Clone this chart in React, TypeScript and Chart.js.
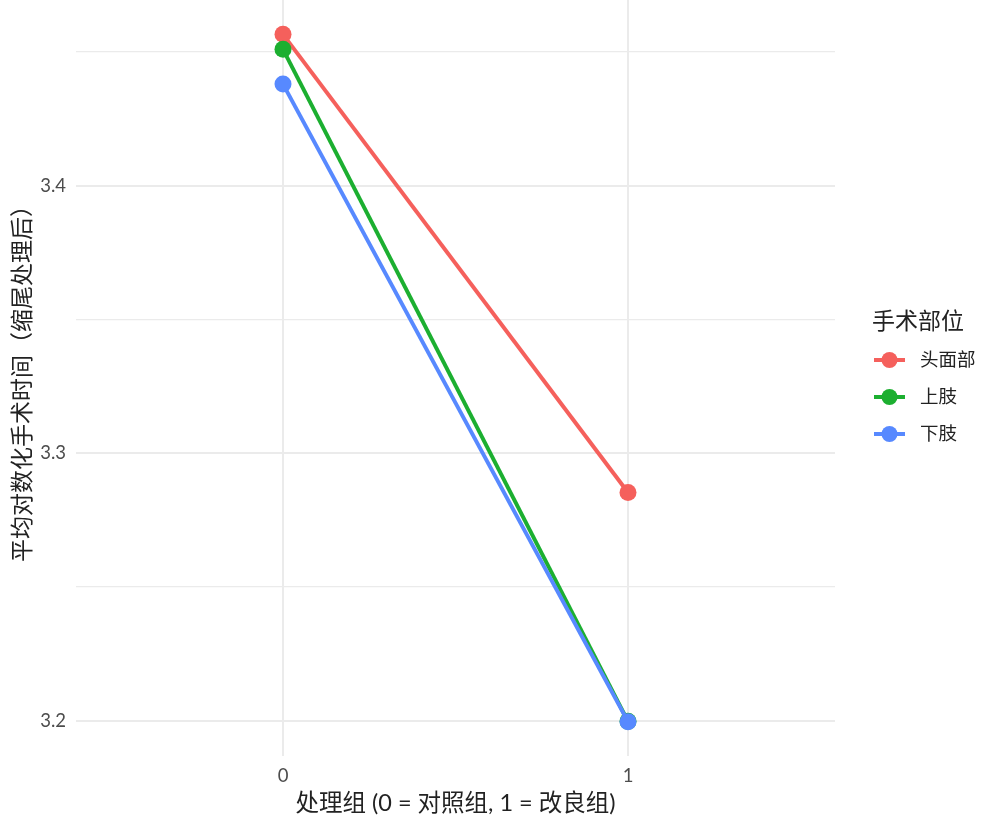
import React, { useEffect, useRef } from 'react';
import { Chart, registerables } from 'chart.js';

Chart.register(...registerables);

// ---- data ----
const groups = [0, 1];
const seriesNames = ['头面部', '上肢', '下肢'];
const headFace = [3.4566, 3.2853];
const upperLimb = [3.451, 3.1997];
const lowerLimb = [3.438, 3.1996];
const seriesColors = ['#F5605C', '#1CAF30', '#5789FF'];
const yTickValues = [3.2, 3.25, 3.3, 3.35, 3.4, 3.45];
const yMajorTicks = [3.2, 3.3, 3.4];
const xTickValues = [0, 1];
const xTitle = '处理组 (0 = 对照组, 1 = 改良组)';
const yTitle = '平均对数化手术时间（缩尾处理后）';
const legendTitle = '手术部位';

const FONT = "Lato, 'Noto Sans CJK SC', sans-serif";

const allValues = [...headFace, ...upperLimb, ...lowerLimb];
const yLo = Math.min(...allValues);
const yHi = Math.max(...allValues);
const yPad = (yHi - yLo) * 0.05;

const isMajor = (v: number) => yMajorTicks.some((m) => Math.abs(m - v) < 1e-9);

const legendPlugin = {
  id: 'ggLegend',
  afterDraw(chart: any) {
    const { ctx, chartArea } = chart;
    const cy = (chartArea.top + chartArea.bottom) / 2;
    const x0 = chartArea.right;
    ctx.save();
    ctx.textBaseline = 'middle';
    ctx.textAlign = 'left';
    ctx.fillStyle = '#222222';
    ctx.font = `23px ${FONT}`;
    ctx.fillText(legendTitle, x0 + 37, cy - 56);
    chart.data.datasets.forEach((ds: any, i: number) => {
      const y = cy - 18 + i * 37;
      ctx.strokeStyle = ds.borderColor;
      ctx.lineWidth = 4;
      ctx.beginPath();
      ctx.moveTo(x0 + 39, y);
      ctx.lineTo(x0 + 70, y);
      ctx.stroke();
      ctx.fillStyle = ds.pointBackgroundColor;
      ctx.beginPath();
      ctx.arc(x0 + 54.5, y, 8, 0, Math.PI * 2);
      ctx.fill();
      ctx.fillStyle = '#222222';
      ctx.font = `18.5px ${FONT}`;
      ctx.fillText(ds.label, x0 + 85, y);
    });
    ctx.restore();
  },
};

export default function App() {
  const canvasRef = useRef<HTMLCanvasElement | null>(null);

  useEffect(() => {
    document.body.style.margin = '0';
    const canvas = canvasRef.current;
    if (!canvas) return;
    const seriesValues = [headFace, upperLimb, lowerLimb];
    const datasets = seriesNames.map((name, i) => ({
      label: name,
      data: groups.map((g, j) => ({ x: g, y: seriesValues[i][j] })),
      borderColor: seriesColors[i],
      backgroundColor: seriesColors[i],
      pointBackgroundColor: seriesColors[i],
      pointBorderWidth: 0,
      pointRadius: 8.5,
      pointHoverRadius: 8.5,
      borderWidth: 4,
      tension: 0,
      clip: false as any,
      order: seriesNames.length - 1 - i,
    }));

    const chart = new Chart(canvas, {
      type: 'line',
      data: { datasets },
      plugins: [legendPlugin],
      options: {
        responsive: false,
        animation: false,
        layout: { autoPadding: false, padding: { top: 0, left: 0, bottom: 0, right: 166 } },
        plugins: { legend: { display: false }, tooltip: { enabled: false } },
        scales: {
          x: {
            type: 'linear',
            min: -0.6,
            max: 1.6,
            border: { display: false },
            grid: { color: '#EBEBEB', lineWidth: 2, drawTicks: false },
            afterBuildTicks: (scale: any) => {
              scale.ticks = xTickValues.map((v) => ({ value: v }));
            },
            afterFit: (scale: any) => {
              scale.height = 68;
              scale.paddingLeft = 0;
              scale.paddingRight = 0;
              scale.paddingTop = 0;
              scale.paddingBottom = 0;
            },
            ticks: {
              autoSkip: false,
              maxRotation: 0,
              padding: 9,
              color: '#4D4D4D',
              font: { family: FONT, size: 18.5 },
              callback: (v: any) => String(v),
            },
            title: {
              display: true,
              text: xTitle,
              color: '#222222',
              font: { family: FONT, size: 23.5 },
              padding: { top: 0, bottom: 6 },
            },
          },
          y: {
            type: 'linear',
            min: yLo - yPad,
            max: yHi + yPad,
            border: { display: false },
            grid: {
              color: '#EBEBEB',
              lineWidth: (c: any) => (c.tick && isMajor(c.tick.value) ? 2 : 1.2),
              drawTicks: false,
            },
            afterBuildTicks: (scale: any) => {
              scale.ticks = yTickValues.map((v) => ({ value: v }));
            },
            afterFit: (scale: any) => {
              scale.width = 76;
              scale.paddingLeft = 0;
              scale.paddingRight = 0;
              scale.paddingTop = 0;
              scale.paddingBottom = 0;
            },
            ticks: {
              autoSkip: false,
              padding: 10,
              color: '#4D4D4D',
              font: { family: FONT, size: 18.5 },
              callback: (v: any) => (isMajor(Number(v)) ? Number(v).toFixed(1) : ''),
            },
            title: {
              display: true,
              text: yTitle,
              color: '#222222',
              font: { family: FONT, size: 23 },
              padding: { top: 9, bottom: 0 },
            },
          },
        },
      },
    });
    return () => chart.destroy();
  }, []);

  return (
    <div style={{ width: 1001, height: 824 }}>
      <canvas ref={canvasRef} width={1001} height={824} style={{ display: 'block' }} />
    </div>
  );
}
